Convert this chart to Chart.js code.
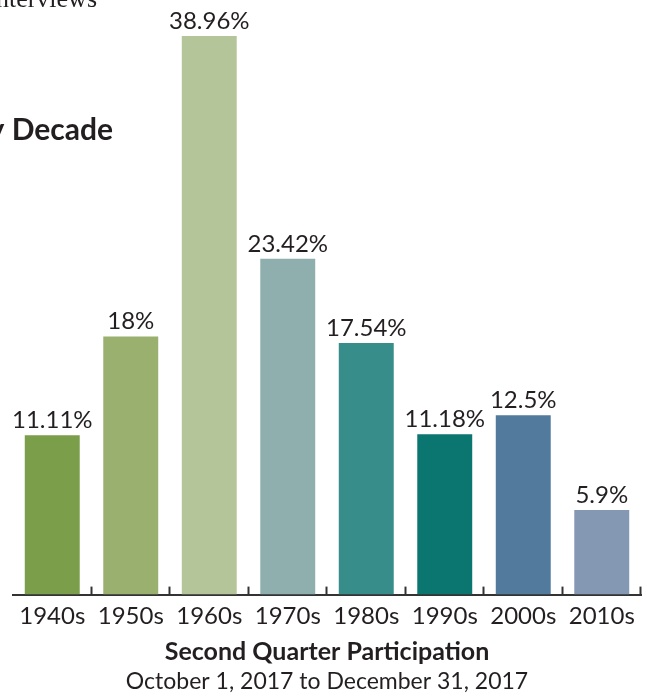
<!DOCTYPE html>
<html>
<head>
<meta charset="utf-8">
<script src="https://cdn.jsdelivr.net/npm/chart.js@4.4.0/dist/chart.umd.min.js"></script>
<style>
  html, body { margin: 0; padding: 0; background: #fff; }
  #wrap { width: 648px; height: 695px; position: relative; }
</style>
</head>
<body>
<div id="wrap"><canvas id="chart"></canvas></div>
<script>
// datos del grafico
const decades = ['1940s', '1950s', '1960s', '1970s', '1980s', '1990s', '2000s', '2010s'];
const percents = [11.11, 18, 38.96, 23.42, 17.54, 11.18, 12.5, 5.9];
const barColors = ['#7a9e4a', '#9ab06f', '#b5c59a', '#8eafad', '#378d8a', '#0b7570', '#527a9d', '#8498b3'];
const textColor = '#231f20';

// etiquetas sobre barras + marcas del eje + textos recortados de arriba
const extras = {
  id: 'extras',
  afterDatasetsDraw(chart) {
    const ctx = chart.ctx;
    const meta = chart.getDatasetMeta(0);
    ctx.save();
    ctx.fillStyle = textColor;
    ctx.font = '24px Lato';
    ctx.textAlign = 'center';
    ctx.textBaseline = 'alphabetic';
    meta.data.forEach((bar, i) => {
      ctx.fillText(percents[i] + '%', bar.x, bar.y - 7);
    });

    // marcas hacia arriba entre categorias
    const area = chart.chartArea;
    const step = (area.right - area.left) / decades.length;
    ctx.strokeStyle = '#333';
    ctx.lineWidth = 2;
    for (let i = 1; i <= decades.length; i++) {
      const px = Math.round(area.left + i * step) - 0.5;
      ctx.beginPath();
      ctx.moveTo(px, area.bottom);
      ctx.lineTo(px, area.bottom - 8);
      ctx.stroke();
    }

    // titulos cortados del original
    ctx.textAlign = 'right';
    ctx.font = '26px "Liberation Serif"';
    ctx.fillText('Interviews', 97, 7);
    ctx.font = 'bold 30px Lato';
    ctx.fillText('Participation by Decade', 113, 140);
    ctx.restore();
  }
};

window.addEventListener('DOMContentLoaded', () => {
  new Chart(document.getElementById('chart'), {
    type: 'bar',
    data: {
      labels: decades,
      datasets: [{
        data: percents,
        backgroundColor: barColors,
        barPercentage: 0.7,
        categoryPercentage: 1
      }]
    },
    options: {
      responsive: true,
      maintainAspectRatio: false,
      animation: false,
      layout: { padding: { left: 13, right: 7, top: 21, bottom: 0 } },
      scales: {
        y: { display: false, min: 0, max: 40 },
        x: {
          grid: { display: false, drawTicks: false },
          border: { display: true, color: '#333', width: 2 },
          ticks: { color: textColor, font: { family: 'Lato', size: 24 }, padding: 7 },
          title: {
            display: true,
            text: 'Second Quarter Participation',
            color: textColor,
            font: { family: 'Lato', size: 25, weight: 'bold' },
            padding: { top: 0, bottom: 0 }
          }
        }
      },
      plugins: {
        legend: { display: false },
        tooltip: { enabled: false },
        title: {
          display: true,
          position: 'bottom',
          text: 'October 1, 2017 to December 31, 2017',
          color: textColor,
          font: { family: 'Lato', size: 23, weight: 'normal' },
          padding: { top: 0, bottom: 0 }
        }
      }
    },
    plugins: [extras]
  });
});
</script>
</body>
</html>
